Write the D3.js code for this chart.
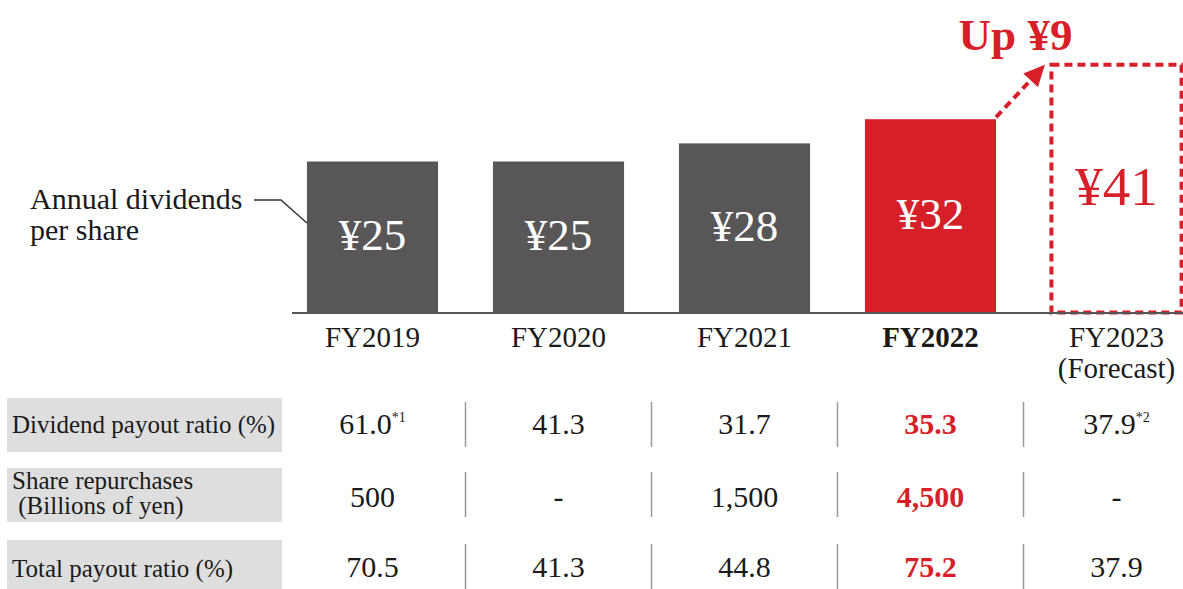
<!DOCTYPE html>
<html>
<head>
<meta charset="utf-8">
<script src="https://cdn.jsdelivr.net/npm/d3@7"></script>
<style>
  html, body { margin: 0; padding: 0; background: #ffffff; }
  svg { display: block; }
  text { font-family: "Liberation Serif", "Times New Roman", serif; }
</style>
</head>
<body>
<svg id="chart" width="1183" height="589"></svg>
<script>
// ---- data ----
const categories = ["FY2019", "FY2020", "FY2021", "FY2022", "FY2023"];
const categorySubLabels = ["", "", "", "", "(Forecast)"];
const dividends = [25, 25, 28, 32, 41];
const dividendLabels = ["¥25", "¥25", "¥28", "¥32", "¥41"];
const highlightIndex = 3;   // FY2022 (actual, highlighted)
const forecastIndex = 4;    // FY2023 (forecast, dashed)
const increaseLabel = "Up ¥9";
const seriesLabel = ["Annual dividends", "per share"];

const rowLabels = [
  ["Dividend payout ratio (%)"],
  ["Share repurchases", " (Billions of yen)"],
  ["Total payout ratio (%)"]
];
const payoutRatio = ["61.0", "41.3", "31.7", "35.3", "37.9"];
const payoutNotes = ["*1", "", "", "", "*2"];
const repurchases = ["500", "-", "1,500", "4,500", "-"];
const totalPayout = ["70.5", "41.3", "44.8", "75.2", "37.9"];
const tableRows = [
  { values: payoutRatio, notes: payoutNotes },
  { values: repurchases, notes: ["", "", "", "", ""] },
  { values: totalPayout, notes: ["", "", "", "", ""] }
];

// ---- styles ----
const GRAY = "#595657";
const RED = "#d61f28";
const TEXT = "#1a1a1a";
const BOX = "#dedede";

const svg = d3.select("#chart");

// ---- scales ----
const x = d3.scaleBand()
  .domain(categories)
  .range([279.5, 1209.5])
  .paddingInner(0.295)
  .paddingOuter(0.1475);
const bw = x.bandwidth();
const y = d3.scaleLinear().domain([0, 50]).range([312.5, 10.5]);

// ---- bars ----
const barData = categories.map((c, i) => ({ c, v: dividends[i], label: dividendLabels[i], i }));

svg.append("g").selectAll("rect")
  .data(barData.filter(d => d.i !== forecastIndex))
  .join("rect")
  .attr("x", d => x(d.c))
  .attr("y", d => y(d.v))
  .attr("width", bw)
  .attr("height", d => y(0) - y(d.v))
  .attr("fill", d => d.i === highlightIndex ? RED : GRAY);

// forecast dashed box
const fc = barData[forecastIndex];
svg.append("rect")
  .attr("x", x(fc.c) + 0.5)
  .attr("y", y(fc.v))
  .attr("width", bw - 1)
  .attr("height", y(0) - y(fc.v))
  .attr("fill", "none")
  .attr("stroke", RED)
  .attr("stroke-width", 4)
  .attr("stroke-dasharray", "8,5");

// baseline
svg.append("line")
  .attr("x1", 292).attr("x2", 1183)
  .attr("y1", y(0) + 0.5).attr("y2", y(0) + 0.5)
  .attr("stroke", "#555").attr("stroke-width", 2);

// bar value labels
svg.append("g").selectAll("text")
  .data(barData)
  .join("text")
  .attr("x", d => x(d.c) + bw / 2)
  .attr("y", d => {
    const fs = d.i === forecastIndex ? 55 : 45;
    const mid = (y(d.v) + y(0)) / 2;
    return mid - 2.5 + 0.338 * fs;
  })
  .attr("text-anchor", "middle")
  .attr("font-size", d => d.i === forecastIndex ? 55 : 45)
  .attr("fill", d => d.i === forecastIndex ? RED : "#ffffff")
  .text(d => d.label);

// ---- arrow from FY2022 to FY2023 ----
const hl = barData[highlightIndex];
const x0 = x(hl.c) + bw, y0 = y(hl.v) - 2;
const x1 = x(fc.c) - 6, y1 = y(fc.v);
const ang = Math.atan2(y1 - y0, x1 - x0);
const headLen = 21, headHalf = 10;
const bx = x1 - headLen * Math.cos(ang), by = y1 - headLen * Math.sin(ang);
svg.append("line")
  .attr("x1", x0).attr("y1", y0)
  .attr("x2", bx + 2 * Math.cos(ang)).attr("y2", by + 2 * Math.sin(ang))
  .attr("stroke", RED).attr("stroke-width", 4)
  .attr("stroke-dasharray", "8,5");
svg.append("path")
  .attr("d", d3.line()([
    [x1, y1],
    [bx + headHalf * Math.sin(ang), by - headHalf * Math.cos(ang)],
    [bx - headHalf * Math.sin(ang), by + headHalf * Math.cos(ang)]
  ]) + "Z")
  .attr("fill", RED);

svg.append("text")
  .attr("x", (x0 + x1) / 2 - 5)
  .attr("y", 50)
  .attr("text-anchor", "middle")
  .attr("font-size", 45)
  .attr("font-weight", "bold")
  .attr("fill", RED)
  .text(increaseLabel);

// ---- series label with leader ----
const sl = svg.append("text")
  .attr("font-size", 30).attr("fill", TEXT);
sl.append("tspan").attr("x", 30).attr("y", 209).text(seriesLabel[0]);
sl.append("tspan").attr("x", 30).attr("y", 240).text(seriesLabel[1]);
svg.append("path")
  .attr("d", d3.line()([[254, 200], [281, 200], [x(categories[0]), 223]]))
  .attr("fill", "none").attr("stroke", "#333").attr("stroke-width", 1.5);

// ---- category labels ----
const catG = svg.append("g").selectAll("text")
  .data(categories)
  .join("text")
  .attr("text-anchor", "middle")
  .attr("font-size", 29)
  .attr("fill", TEXT);
catG.append("tspan")
  .attr("x", c => x(c) + bw / 2)
  .attr("y", 347)
  .attr("font-weight", (c, i) => i === highlightIndex ? "bold" : "normal")
  .text(c => c);
catG.append("tspan")
  .attr("x", c => x(c) + bw / 2)
  .attr("y", 378)
  .text((c, i) => categorySubLabels[i]);

// ---- table ----
const rowTops = [398, 468, 540];
const rowH = 54;
const rowBaselines = [434, 507, 577];
const labelBaselines = [[433], [489, 514], [577]];

tableRows.forEach((row, r) => {
  const g = svg.append("g");
  g.append("rect")
    .attr("x", 7).attr("y", rowTops[r])
    .attr("width", 275).attr("height", rowH)
    .attr("fill", BOX);
  const lt = g.append("text")
    .attr("font-size", 25).attr("fill", TEXT)
    .attr("xml:space", "preserve")
    .style("white-space", "pre");
  rowLabels[r].forEach((line, k) => {
    lt.append("tspan")
      .attr("x", 12).attr("y", labelBaselines[r][k])
      .text(line);
  });
  // separators
  g.selectAll("line")
    .data(categories.slice(0, -1))
    .join("line")
    .attr("x1", c => x(c) + bw + (x.step() - bw) / 2)
    .attr("x2", c => x(c) + bw + (x.step() - bw) / 2)
    .attr("y1", rowTops[r] + 4)
    .attr("y2", rowTops[r] + 49)
    .attr("stroke", "#9a9a9a").attr("stroke-width", 1.5);
  // values
  const t = g.selectAll("text.val")
    .data(categories)
    .join("text")
    .attr("class", "val")
    .attr("x", c => x(c) + bw / 2)
    .attr("y", rowBaselines[r])
    .attr("text-anchor", "middle")
    .attr("font-size", 30)
    .attr("font-weight", (c, i) => i === highlightIndex ? "bold" : "normal")
    .attr("fill", (c, i) => i === highlightIndex ? RED : TEXT);
  t.append("tspan").text((c, i) => row.values[i]);
  t.append("tspan")
    .attr("font-size", 14)
    .attr("dy", -12)
    .text((c, i) => row.notes[i]);
});
</script>
</body>
</html>
